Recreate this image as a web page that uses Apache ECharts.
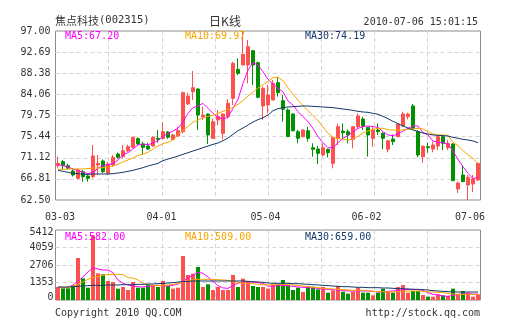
<!DOCTYPE html>
<html><head><meta charset="utf-8">
<script src="https://cdn.jsdelivr.net/npm/echarts@6/dist/echarts.min.js"></script>
<style>html,body{margin:0;padding:0;background:#fff}#c{width:505px;height:330px}</style>
</head><body><div id="c"></div>
<script>
const dates = ['03-03','03-04','03-05','03-08','03-09','03-10','03-11','03-12','03-15','03-16','03-17','03-18','03-19','03-22','03-23','03-24','03-25','03-26','03-29','03-30','03-31',
'04-01','04-02','04-06','04-07','04-08','04-09','04-12','04-13','04-14','04-15','04-16','04-19','04-20','04-21','04-22','04-23','04-26','04-27','04-28','04-29','04-30',
'05-04','05-05','05-06','05-07','05-10','05-11','05-12','05-13','05-14','05-17','05-18','05-19','05-20','05-21','05-24','05-25','05-26','05-27','05-28','05-31',
'06-01','06-02','06-03','06-04','06-07','06-08','06-09','06-10','06-11','06-17','06-18','06-21','06-22','06-23','06-24','06-25','06-28','06-29','06-30',
'07-01','07-02','07-05','07-06'];
const xLabelIdx = [0, 21, 42, 63, 84];

const opens = [69.51,70.33,69.51,68.42,66.92,68.28,67.40,67.26,69.64,70.46,67.94,69.64,71.89,71.35,72.57,73.25,75.02,73.93,73.52,73.52,75.09,
75.09,76.38,74.88,75.56,76.45,82.10,84.62,85.16,79.51,80.05,75.09,78.83,76.11,79.51,83.25,89.17,90.06,90.06,92.98,90.53,
81.69,81.89,82.91,86.45,82.78,80.87,80.05,76.45,75.43,76.65,73.18,72.91,71.69,72.84,69.98,75.09,76.58,76.45,74.88,77.47,
79.03,77.33,75.09,76.79,76.11,72.84,74.95,75.43,77.60,79.51,81.69,76.45,71.35,73.39,72.91,73.52,75.43,73.18,73.93,64.75,
67.60,65.56,65.77,66.58];
const closes = [69.98,69.51,68.97,67.60,68.62,67.26,66.92,71.49,69.98,68.28,69.85,71.21,71.21,72.57,73.39,75.29,73.93,73.25,72.91,75.29,74.88,
76.45,75.29,75.77,76.65,84.41,83.73,85.43,79.85,79.85,75.77,78.49,79.51,80.05,82.23,90.40,88.36,92.24,93.80,90.06,83.46,
85.30,83.93,86.32,84.41,81.01,75.43,76.65,75.09,76.79,75.09,72.84,72.03,73.18,72.16,75.29,77.47,76.25,75.77,77.47,79.65,
77.60,75.77,76.79,76.45,75.09,74.61,74.41,78.01,80.05,80.05,77.13,71.69,73.52,73.18,73.73,75.43,74.07,74.07,66.45,65.97,
66.24,67.13,66.79,69.98];
const lows = [68.97,68.62,68.70,67.30,66.72,66.24,66.24,66.92,67.60,68.00,67.60,69.30,70.90,71.00,72.30,73.05,73.66,71.69,72.70,73.39,74.20,
74.80,75.00,74.70,75.43,76.10,81.90,82.90,76.79,78.83,73.93,75.02,77.80,74.88,79.17,81.89,88.02,90.06,86.32,85.98,83.25,
78.83,80.19,82.80,83.59,78.49,75.43,76.50,74.07,75.30,74.40,71.35,69.85,71.35,71.20,68.97,73.73,75.09,74.07,73.05,77.10,
76.79,71.35,73.39,75.77,72.84,72.23,73.73,75.30,77.50,78.96,77.13,71.21,70.10,72.16,72.23,72.70,72.70,72.70,66.45,63.93,
66.24,62.50,64.13,66.45];
const highs = [71.35,70.67,69.90,68.90,68.97,68.62,67.60,73.73,71.69,70.80,70.30,71.69,72.20,73.73,73.80,75.43,75.29,74.40,74.20,75.56,76.79,
78.40,76.60,76.00,77.47,84.62,84.41,88.84,85.30,81.55,80.19,79.17,80.87,80.19,83.05,90.74,91.42,97.00,95.16,93.10,90.74,
85.64,85.98,87.00,87.70,83.90,81.20,80.20,76.79,76.90,77.47,74.07,73.52,74.07,73.00,75.43,78.15,78.15,76.90,77.60,80.19,
79.50,77.33,77.47,78.15,76.25,74.75,75.90,78.20,80.53,80.33,82.10,76.79,73.52,74.20,74.41,75.56,75.43,74.75,74.07,66.30,
69.50,67.60,67.60,70.12];

const ma5 = [69.71,69.51,69.24,68.83,68.49,68.15,67.88,68.15,68.97,69.51,69.71,69.92,70.67,71.75,72.16,72.91,73.73,73.93,73.79,74.13,74.61,
75.43,76.11,76.59,77.13,78.49,80.19,81.35,81.69,82.23,81.21,80.19,79.38,79.04,79.38,81.21,83.05,86.32,89.04,90.53,90.06,
88.70,87.13,86.18,85.30,84.62,82.71,81.89,80.53,79.51,78.49,77.13,75.43,74.20,73.18,73.18,74.20,75.09,75.63,76.45,77.13,
77.47,77.61,77.47,77.33,76.45,75.77,75.63,75.97,76.59,77.13,77.61,77.61,76.25,75.77,74.54,74.27,74.20,73.93,72.50,70.80,
69.30,67.94,66.85,67.20];
const ma10 = [68.76,68.76,68.83,68.83,68.83,68.83,68.89,69.03,69.03,69.10,69.24,69.44,69.78,70.26,70.67,71.07,71.62,71.89,72.23,72.91,73.52,
74.00,74.27,74.75,75.84,76.72,77.54,78.36,78.83,79.24,79.58,79.78,80.19,80.60,81.01,81.42,82.03,82.78,83.73,84.48,85.36,
86.05,86.72,87.47,87.54,86.86,85.43,84.07,82.85,81.76,80.74,79.72,78.69,77.40,76.11,75.29,75.09,74.88,74.75,74.95,75.50,
76.18,76.59,76.93,77.13,77.13,76.86,76.79,76.79,76.79,76.93,76.99,77.13,76.99,76.45,75.97,75.77,75.77,75.70,74.27,73.59,
72.57,71.75,71.00,69.97];
const ma30 = [68.56,68.35,68.15,67.94,67.88,67.74,67.74,67.81,67.81,67.81,67.81,67.88,68.01,68.15,68.35,68.56,68.83,69.10,69.44,69.71,69.98,
70.53,70.87,71.14,71.48,71.82,72.16,72.50,72.84,73.18,73.52,73.86,74.14,74.61,75.16,75.90,76.65,77.20,77.81,78.42,78.90,
79.31,79.85,80.74,81.15,81.35,81.49,81.55,81.62,81.69,81.69,81.62,81.55,81.49,81.42,81.35,81.21,81.08,80.94,80.80,80.60,
80.47,80.40,80.19,79.99,79.58,79.10,78.56,78.08,77.61,77.20,76.79,76.45,76.18,75.97,75.77,75.70,75.63,75.56,75.29,75.09,
74.88,74.75,74.55,74.19];

const volumes = [1005,902,902,1134,3247,1675,953,4999,2062,1984,1469,1392,876,1005,773,1392,953,953,1211,1134,1005,
1469,1082,876,953,3402,1933,2036,2551,1005,1211,773,1005,773,773,1933,1005,1649,1469,1082,1005,
1005,876,1160,1211,1546,1160,773,953,618,1082,1031,825,1005,567,747,1082,644,490,644,953,
567,567,361,567,876,618,567,1005,1160,567,696,696,387,258,258,438,361,309,876,438,
696,567,258,438];
const volMa5 = [1005,953,979,1160,1469,1778,2165,2500,2397,2319,2319,2113,1546,1289,1160,1082,1031,1005,1057,1108,1134,
1108,1082,1134,1237,1443,1701,1907,2139,2062,1778,1443,1108,928,902,1108,1314,1392,1392,1392,1340,
1289,1082,1057,1108,1134,1108,1057,1005,979,953,928,902,850,825,799,773,747,696,696,696,
696,696,670,618,644,670,696,747,799,825,825,799,747,567,438,387,309,283,361,438,
464,490,464,464];
const volMa10 = [953,953,979,1082,1211,1417,1598,1727,1830,1907,1959,1984,1984,1959,1727,1701,1546,1289,1185,1134,1108,
1134,1160,1211,1289,1392,1469,1546,1598,1598,1598,1598,1572,1546,1520,1443,1340,1314,1289,1263,1211,
1185,1160,1185,1211,1211,1185,1160,1134,1082,1031,979,953,902,876,850,825,799,773,747,747,
747,722,670,644,644,618,618,644,670,696,696,696,670,644,618,593,567,515,464,438,
438,438,438,438];
const volMa30 = [1005,1005,1005,1031,1057,1082,1108,1134,1134,1134,1160,1160,1160,1185,1185,1185,1211,1211,1237,1237,1263,
1289,1314,1340,1392,1417,1443,1469,1469,1469,1469,1469,1469,1469,1469,1469,1469,1469,1443,1417,1392,
1366,1314,1289,1289,1289,1289,1263,1263,1237,1211,1185,1160,1134,1108,1082,1057,1031,1031,1005,979,
979,953,953,953,928,928,902,876,876,850,825,825,799,773,722,696,670,644,618,618,
618,618,618,618];

const priceTickLabels = ['62.50','66.81','71.12','75.44','79.75','84.06','88.38','92.69','97.00'];
const volTickLabels = ['0','1353','2706','4059','5412'];
const priceMin = 62.50, priceMax = 97.00;
const volMax = 5412, volStep = 1353;

const stockName = '焦点科技';
const stockCode = '(002315)';
const chartTitle = '日K线';
const stamp = '2010-07-06 15:01:15';
const maLabels = ['MA5:67.20', 'MA10:69.97', 'MA30:74.19'];
const volMaLabels = ['MA5:582.00', 'MA10:509.00', 'MA30:659.00'];

const UP = '#ff5050', DOWN = '#009000';
const C5 = '#ff00ff', C10 = '#f7a500', C30 = '#153a6a';
const MONO = '"DejaVu Sans Mono", "Liberation Mono", monospace';
const GRIDC = '#d4d4d4';

const candleData = opens.map((o, i) => [o, closes[i], lows[i], highs[i]]);
const volData = volumes.map((v, i) => ({ value: v, itemStyle: { color: closes[i] >= opens[i] ? UP : DOWN } }));

const chart = echarts.init(document.getElementById('c'), null, { renderer: 'canvas' });
const dashed = { show: true, showMinLine: false, showMaxLine: false, lineStyle: { color: GRIDC, type: [4, 3], width: 1 } };
const xPad = [[0,0,0,4],[0,3,0,0],[0,5,0,0],[0,13,0,0],[0,16,0,0]];
const xRich = {};
xPad.forEach((p, k) => { xRich['s' + k] = { padding: p, fontFamily: MONO, fontSize: 10, color: '#333' }; });

chart.setOption({
  animation: false,
  textStyle: { fontFamily: MONO },
  grid: [
    { left: 55.5, top: 31, width: 425, height: 169, show: true, borderColor: '#8c8c8c', borderWidth: 1, backgroundColor: 'transparent' },
    { left: 55.5, top: 230, width: 425, height: 70, show: true, borderColor: '#8c8c8c', borderWidth: 1, backgroundColor: 'transparent' }
  ],
  xAxis: [
    { type: 'category', gridIndex: 0, data: dates, boundaryGap: true, position: 'bottom',
      axisLine: { show: false }, axisTick: { show: false }, splitLine: { show: false },
      axisLabel: { show: true, interval: (idx) => xLabelIdx.indexOf(idx) >= 0, margin: 12,
        fontFamily: MONO, fontSize: 10, color: '#333',
        formatter: (v, idx) => '{s' + xLabelIdx.indexOf(idx) + '|' + v + '}', rich: xRich } },
    { type: 'value', gridIndex: 0, min: 0, max: 8, interval: 1, position: 'top',
      axisLine: { show: false }, axisTick: { show: false }, axisLabel: { show: false }, splitLine: dashed },
    { type: 'category', gridIndex: 1, data: dates, boundaryGap: true,
      axisLine: { show: false }, axisTick: { show: false }, axisLabel: { show: false }, splitLine: { show: false } },
    { type: 'value', gridIndex: 1, min: 0, max: 8, interval: 1, position: 'top',
      axisLine: { show: false }, axisTick: { show: false }, axisLabel: { show: false }, splitLine: dashed }
  ],
  yAxis: [
    { type: 'value', gridIndex: 0, min: priceMin, max: priceMax, position: 'right', show: false, scale: true },
    { type: 'value', gridIndex: 0, min: 0, max: 8, interval: 1, position: 'left',
      axisLine: { show: false }, axisTick: { show: false }, splitLine: dashed,
      axisLabel: { margin: 5, fontFamily: MONO, fontSize: 10, color: '#333',
        formatter: (v) => priceTickLabels[Math.round(v)] } },
    { type: 'value', gridIndex: 1, min: 0, max: volMax, interval: volStep, position: 'left',
      axisLine: { show: false }, axisTick: { show: false }, splitLine: dashed,
      axisLabel: { margin: 2, fontFamily: MONO, fontSize: 10, color: '#333',
        formatter: (v) => { const k = Math.round(v / volStep); return '{v' + k + '|' + volTickLabels[k] + '}'; },
        rich: { v0: { padding: [0,0,6,0], fontFamily: MONO, fontSize: 10, color: '#333' },
                v1: { fontFamily: MONO, fontSize: 10, color: '#333' },
                v2: { fontFamily: MONO, fontSize: 10, color: '#333' },
                v3: { fontFamily: MONO, fontSize: 10, color: '#333' },
                v4: { padding: [4,0,0,0], fontFamily: MONO, fontSize: 10, color: '#333' } } } }
  ],
  series: [
    { type: 'candlestick', xAxisIndex: 0, yAxisIndex: 0, data: candleData, barWidth: 3,
      itemStyle: { color: UP, color0: DOWN, borderColor: UP, borderColor0: DOWN, borderWidth: 1 } },
    { type: 'line', xAxisIndex: 0, yAxisIndex: 0, data: ma5, symbol: 'none', lineStyle: { color: C5, width: 1 }, z: 3 },
    { type: 'line', xAxisIndex: 0, yAxisIndex: 0, data: ma10, symbol: 'none', lineStyle: { color: C10, width: 1 }, z: 3 },
    { type: 'line', xAxisIndex: 0, yAxisIndex: 0, data: ma30, symbol: 'none', lineStyle: { color: C30, width: 1 }, z: 3 },
    { type: 'bar', xAxisIndex: 2, yAxisIndex: 2, data: volData, barWidth: 4 },
    { type: 'line', xAxisIndex: 2, yAxisIndex: 2, data: volMa5, symbol: 'none', lineStyle: { color: C5, width: 1 }, z: 3 },
    { type: 'line', xAxisIndex: 2, yAxisIndex: 2, data: volMa10, symbol: 'none', lineStyle: { color: C10, width: 1 }, z: 3 },
    { type: 'line', xAxisIndex: 2, yAxisIndex: 2, data: volMa30, symbol: 'none', lineStyle: { color: C30, width: 1 }, z: 3 }
  ],
  graphic: [
    { type: 'text', left: 55, top: 15, z: 10, style: { text: '{a|' + stockName + '}{b|' + stockCode + '}',
        rich: { a: { fontFamily: '"Noto Sans CJK SC"', fontSize: 11, fill: '#333' }, b: { fontFamily: MONO, fontSize: 10.5, fill: '#333' } } } },
    { type: 'text', x: 225, y: 21, z: 10, style: { text: chartTitle, fontFamily: '"Noto Sans CJK SC"', fontSize: 12, fill: '#333', align: 'center', verticalAlign: 'middle' } },
    { type: 'text', x: 478, y: 22, z: 10, style: { text: stamp, fontFamily: MONO, fontSize: 10, fill: '#333', align: 'right', verticalAlign: 'middle' } },
    { type: 'text', x: 65, y: 36, z: 10, style: { text: maLabels[0], fontFamily: MONO, fontSize: 10, fill: C5, verticalAlign: 'middle' } },
    { type: 'text', x: 185, y: 36, z: 10, style: { text: maLabels[1], fontFamily: MONO, fontSize: 10, fill: C10, verticalAlign: 'middle' } },
    { type: 'text', x: 305, y: 36, z: 10, style: { text: maLabels[2], fontFamily: MONO, fontSize: 10, fill: C30, verticalAlign: 'middle' } },
    { type: 'text', x: 65, y: 237, z: 10, style: { text: volMaLabels[0], fontFamily: MONO, fontSize: 10, fill: C5, verticalAlign: 'middle' } },
    { type: 'text', x: 185, y: 237, z: 10, style: { text: volMaLabels[1], fontFamily: MONO, fontSize: 10, fill: C10, verticalAlign: 'middle' } },
    { type: 'text', x: 305, y: 237, z: 10, style: { text: volMaLabels[2], fontFamily: MONO, fontSize: 10, fill: C30, verticalAlign: 'middle' } },
    { type: 'text', x: 55, y: 313, z: 10, style: { text: 'Copyright 2010 QQ.COM', fontFamily: MONO, fontSize: 10, fill: '#333', verticalAlign: 'middle' } },
    { type: 'text', x: 480, y: 313, z: 10, style: { text: 'http://stock.qq.com', fontFamily: MONO, fontSize: 10, fill: '#333', align: 'right', verticalAlign: 'middle' } }
  ]
});
</script></body></html>
